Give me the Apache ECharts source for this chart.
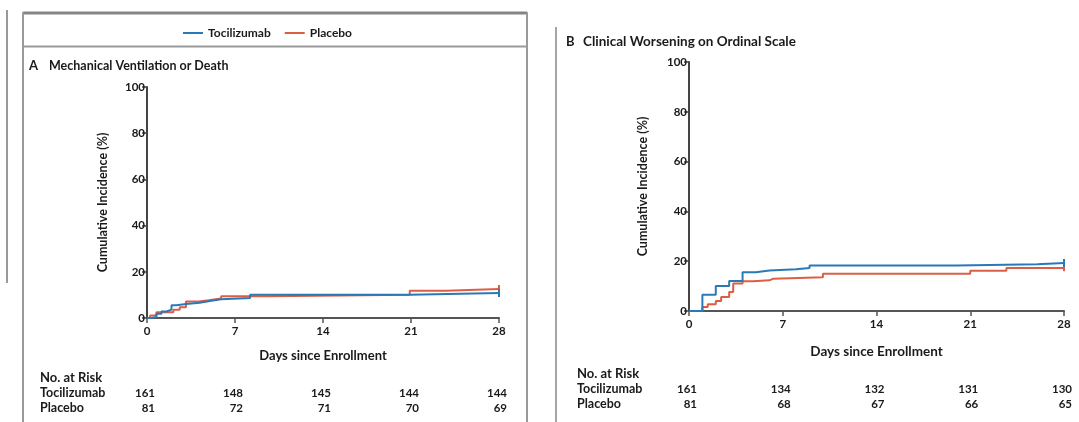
<!DOCTYPE html>
<html>
<head>
<meta charset="utf-8">
<script src="https://cdn.jsdelivr.net/npm/echarts@6/dist/echarts.min.js"></script>
<style>
html,body{margin:0;padding:0;background:#fff;}
#c{width:1079px;height:422px;}
</style>
</head>
<body>
<div id="c"></div>
<script>
// ---- data ----
const dayTicks = [0, 7, 14, 21, 28];
const seriesNames = ['Tocilizumab', 'Placebo'];

const tociA_days = [0, 0.35, 0.75, 1.15, 1.55, 1.95, 2.35, 3.1, 4.2, 5.0, 5.9, 8.2, 20.9, 28];
const tociA_vals = [0, 0.4, 1.8, 2.8, 3.6, 5.5, 6.1, 6.6, 7.4, 8.1, 8.7, 10.1, 10.8, 10.8];
const placA_days = [0, 0.25, 0.75, 2.1, 2.6, 3.1, 4.1, 4.9, 5.9, 9.7, 20.9, 23.8, 28];
const placA_vals = [0, 1.1, 2.5, 3.6, 4.6, 7.1, 7.7, 8.5, 9.4, 10.1, 11.8, 12.6, 12.6];

const tociB_days = [0, 1.0, 2.0, 3.0, 4.0, 5.0, 6.0, 8.0, 9.0, 20.0, 26.0, 28];
const tociB_vals = [0, 6.5, 10.0, 12.0, 15.6, 16.3, 16.8, 17.3, 18.3, 18.8, 19.3, 19.3];
const placB_days = [0, 1.0, 1.4, 2.0, 2.4, 3.0, 3.3, 4.0, 4.8, 6.0, 6.3, 10.0, 21.0, 23.7, 28];
const placB_vals = [0, 1.6, 2.7, 4.0, 5.6, 7.6, 11.0, 11.9, 12.3, 13.0, 13.6, 15.0, 16.2, 17.3, 17.6];

const riskA_toci = [161, 148, 145, 144, 144];
const riskA_plac = [81, 72, 71, 70, 69];
const riskB_toci = [161, 134, 132, 131, 130];
const riskB_plac = [81, 68, 67, 66, 65];

// ---- styling ----
const BLUE = '#2a79b7';
const RED = '#dc5f45';
const TXT = '#1a1a1a';
const FONT = 'Lato, "Noto Sans", sans-serif';

function pairs(d, v) {
  return d.map((x, i) => {
    const last = i === d.length - 1;
    return last ? { value: [x, v[i]], symbol: 'rect', symbolSize: [2, 8] } : { value: [x, v[i]], symbol: 'none' };
  });
}

function xAxis(gi, gap, fs) {
  return {
    gridIndex: gi, type: 'value', min: 0, max: 28, interval: 7,
    name: 'Days since Enrollment', nameLocation: 'middle', nameGap: gap,
    nameTextStyle: { fontFamily: FONT, fontWeight: 'bold', fontSize: fs, color: TXT },
    axisLine: { show: true, lineStyle: { color: '#555', width: 2 } },
    axisTick: { show: true, length: 5, lineStyle: { color: '#555', width: 1.5 } },
    axisLabel: { fontFamily: FONT, fontWeight: 'bold', fontSize: 11.5, color: TXT, margin: 7 },
    splitLine: { show: false }
  };
}
function yAxis(gi, gap, fs) {
  return {
    gridIndex: gi, type: 'value', min: 0, max: 100, interval: 20,
    name: 'Cumulative Incidence (%)', nameLocation: 'middle', nameGap: gap,
    nameTextStyle: { fontFamily: FONT, fontWeight: 'bold', fontSize: fs, color: TXT },
    axisLine: { show: true, lineStyle: { color: '#444', width: 2 } },
    axisTick: { show: true, length: 5, lineStyle: { color: '#444', width: 1.5 } },
    axisLabel: { fontFamily: FONT, fontWeight: 'bold', fontSize: 11.5, color: TXT, margin: 2 },
    splitLine: { show: false }
  };
}
function line(name, gi, d, v, color) {
  return {
    name: name, type: 'line', step: 'end', xAxisIndex: gi, yAxisIndex: gi,
    data: pairs(d, v), showSymbol: true, symbol: 'none', itemStyle: { color: color },
    lineStyle: { color: color, width: 2 }, animation: false, z: name === 'Tocilizumab' ? 3 : 2
  };
}

const chart = echarts.init(document.getElementById('c'), null, { renderer: 'canvas' });
chart.setOption({
  animation: false,
  backgroundColor: '#fff',
  legend: {
    data: seriesNames, left: 178, top: 22, icon: 'rect', itemWidth: 20, itemHeight: 2, itemGap: 14,
    textStyle: { fontFamily: FONT, fontWeight: 'bold', fontSize: 12, color: TXT }
  },
  grid: [
    { left: 147, right: 580, top: 87, bottom: 104 },
    { left: 689, right: 15, top: 62, bottom: 111 }
  ],
  xAxis: [xAxis(0, 31, 13), xAxis(1, 34, 13.5)],
  yAxis: [yAxis(0, 38, 12.5), yAxis(1, 40, 12.5)],
  series: [
    line('Placebo', 0, placA_days, placA_vals, RED),
    line('Tocilizumab', 0, tociA_days, tociA_vals, BLUE),
    line('Placebo', 1, placB_days, placB_vals, RED),
    line('Tocilizumab', 1, tociB_days, tociB_vals, BLUE)
  ]
});

// ---- annotations ----
const g = [];
function txt(x, y, s, opts) {
  g.push({ type: 'text', x: x, y: y, silent: true,
    style: Object.assign({ text: s, fontFamily: FONT, fontWeight: 'bold', fontSize: 12, fill: TXT,
      textAlign: 'left', textVerticalAlign: 'middle' }, opts || {}) });
}
function ln(x1, y1, x2, y2, w, c) {
  g.push({ type: 'line', silent: true, shape: { x1: x1, y1: y1, x2: x2, y2: y2 }, style: { stroke: c, lineWidth: w } });
}
// frames
ln(7, 10, 7, 283, 2, '#9a9a9a');
ln(23, 13, 527, 13, 3, '#858585');
ln(23, 12, 23, 422, 2, '#9a9a9a');
ln(527, 12, 527, 422, 2, '#9a9a9a');
ln(23, 46.5, 527, 46.5, 2, '#9a9a9a');
ln(556, 27, 556, 422, 2, '#a5a5a5');

// titles
txt(29, 66, 'A', { fontSize: 13 });
txt(49, 66, 'Mechanical Ventilation or Death', { fontSize: 12.5 });
txt(566, 42, 'B', { fontSize: 13 });
txt(583, 42, 'Clinical Worsening on Ordinal Scale', { fontSize: 13.5 });

// numbers at risk
function riskTable(gi, left, y0, toci, plac, fs) {
  txt(left, y0, 'No. at Risk', { fontSize: fs + 0.5 });
  txt(left, y0 + 15, seriesNames[0], { fontSize: fs });
  txt(left, y0 + 30, seriesNames[1], { fontSize: fs });
  dayTicks.forEach((d, i) => {
    const px = chart.convertToPixel({ gridIndex: gi }, [d, 0])[0];
    txt(px + 8, y0 + 15, String(toci[i]), { textAlign: 'right', fontSize: 11.5 });
    txt(px + 8, y0 + 30, String(plac[i]), { textAlign: 'right', fontSize: 11.5 });
  });
}
riskTable(0, 40, 378, riskA_toci, riskA_plac, 12.5);
riskTable(1, 577, 374, riskB_toci, riskB_plac, 12.5);

chart.setOption({ graphic: g });
</script>
</body>
</html>
